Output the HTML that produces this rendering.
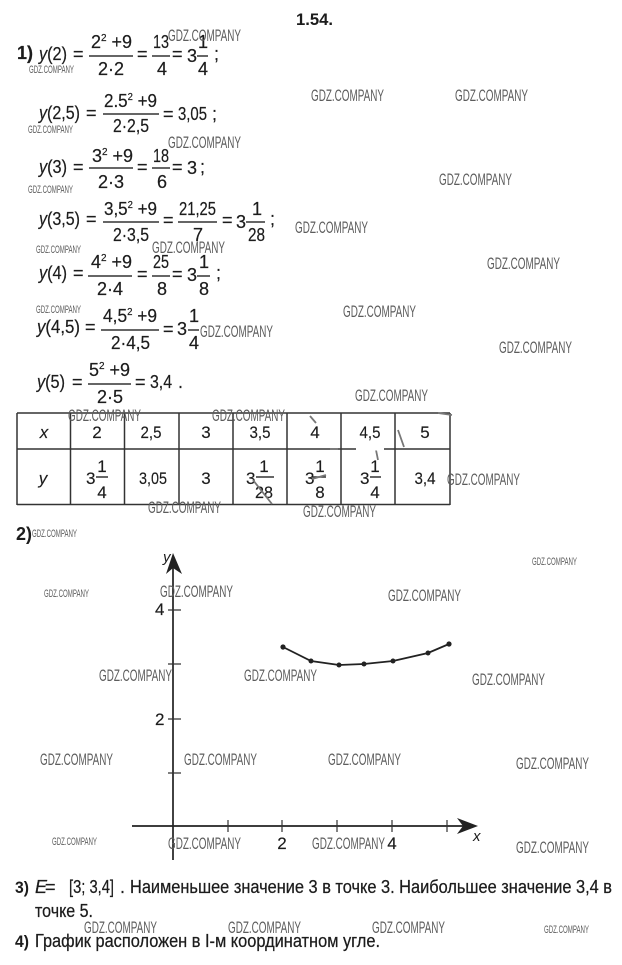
<!DOCTYPE html>
<html><head><meta charset="utf-8"><style>
html,body{margin:0;padding:0;background:#fff}
svg{display:block}
text{font-family:"Liberation Sans",sans-serif;fill:#1c1c1c}
.f{font-size:18px;stroke:#1c1c1c;stroke-width:.2}
.i{font-style:italic}
.b{font-weight:bold}
.t{font-size:17px;stroke:#1c1c1c;stroke-width:.15}
.w{font-size:16.5px;fill:#5c5c5c}
.s{font-size:11px;fill:#5c5c5c}
.l{stroke:#333;stroke-width:1.4;fill:none}
.r{font-size:17px;fill:#1c1c1c;stroke:#1c1c1c;stroke-width:.15}
.q{font-size:18px;stroke:#1c1c1c;stroke-width:.25}
</style></head><body>
<svg width="622" height="965" viewBox="0 0 622 965" xmlns="http://www.w3.org/2000/svg">
<rect width="622" height="965" fill="#fff"/>
<text x="296" y="25" class="b" font-size="17" textLength="37" lengthAdjust="spacingAndGlyphs">1.54.</text>

<!-- Line 1 -->
<text x="17" y="59" class="f b" textLength="16" lengthAdjust="spacingAndGlyphs">1)</text>
<text x="39" y="60" class="f" textLength="28" lengthAdjust="spacingAndGlyphs"><tspan class="i">y</tspan>(2)</text><text x="73" y="60" class="f">=</text>
<text x="91" y="48" class="f" textLength="41" lengthAdjust="spacingAndGlyphs">2<tspan dy="-7" font-size="10">2</tspan><tspan dy="7"> +9</tspan></text>
<path class="l" d="M89 56H133M152 56H170M197 56H208"/>
<text x="98" y="75" class="f" textLength="26" lengthAdjust="spacingAndGlyphs">2·2</text>
<text x="137" y="60" class="f">=</text>
<text x="153" y="48" class="f" textLength="16" lengthAdjust="spacingAndGlyphs">13</text>
<text x="157" y="75" class="f">4</text>
<text x="172" y="60" class="f">=</text>
<text x="187" y="62" class="f">3</text>
<text x="198" y="48" class="f">1</text>
<text x="198" y="75" class="f">4</text>
<text x="214" y="60" class="f">;</text>

<!-- Line 2 -->
<text x="39" y="119" class="f" textLength="41" lengthAdjust="spacingAndGlyphs"><tspan class="i">y</tspan>(2,5)</text><text x="86" y="119" class="f">=</text>
<text x="104" y="107" class="f" textLength="53" lengthAdjust="spacingAndGlyphs">2.5<tspan dy="-7" font-size="10">2</tspan><tspan dy="7"> +9</tspan></text>
<path class="l" d="M103 114H159"/>
<text x="113" y="132" class="f" textLength="36" lengthAdjust="spacingAndGlyphs">2·2,5</text>
<text x="163" y="120" class="f">=</text>
<text x="178" y="120" class="f" textLength="29" lengthAdjust="spacingAndGlyphs">3,05</text>
<text x="212" y="120" class="f">;</text>

<!-- Line 3 -->
<text x="39" y="173" class="f" textLength="28" lengthAdjust="spacingAndGlyphs"><tspan class="i">y</tspan>(3)</text><text x="73" y="173" class="f">=</text>
<text x="92" y="162" class="f" textLength="41" lengthAdjust="spacingAndGlyphs">3<tspan dy="-7" font-size="10">2</tspan><tspan dy="7"> +9</tspan></text>
<path class="l" d="M89 168H133M152 168H170"/>
<text x="98" y="188" class="f" textLength="26" lengthAdjust="spacingAndGlyphs">2·3</text>
<text x="137" y="173" class="f">=</text>
<text x="153" y="162" class="f" textLength="16" lengthAdjust="spacingAndGlyphs">18</text>
<text x="157" y="188" class="f">6</text>
<text x="172" y="173" class="f">=</text>
<text x="187" y="174" class="f">3</text>
<text x="200" y="173" class="f">;</text>

<!-- Line 4 -->
<text x="39" y="225" class="f" textLength="41" lengthAdjust="spacingAndGlyphs"><tspan class="i">y</tspan>(3,5)</text><text x="86" y="225" class="f">=</text>
<text x="104" y="215" class="f" textLength="53" lengthAdjust="spacingAndGlyphs">3,5<tspan dy="-7" font-size="10">2</tspan><tspan dy="7"> +9</tspan></text>
<path class="l" d="M103 222H159M178 222H217M246 222H265"/>
<text x="113" y="241" class="f" textLength="36" lengthAdjust="spacingAndGlyphs">2·3,5</text>
<text x="163" y="226" class="f">=</text>
<text x="179" y="215" class="f" textLength="37" lengthAdjust="spacingAndGlyphs">21,25</text>
<text x="193" y="241" class="f">7</text>
<text x="222" y="226" class="f">=</text>
<text x="236" y="228" class="f">3</text>
<text x="252" y="215" class="f">1</text>
<text x="248" y="241" class="f" textLength="17" lengthAdjust="spacingAndGlyphs">28</text>
<text x="270" y="225" class="f">;</text>

<!-- Line 5 -->
<text x="39" y="279" class="f" textLength="28" lengthAdjust="spacingAndGlyphs"><tspan class="i">y</tspan>(4)</text><text x="73" y="279" class="f">=</text>
<text x="91" y="268" class="f" textLength="41" lengthAdjust="spacingAndGlyphs">4<tspan dy="-7" font-size="10">2</tspan><tspan dy="7"> +9</tspan></text>
<path class="l" d="M88 276H132M152 276H170M197 276H210"/>
<text x="97" y="295" class="f" textLength="26" lengthAdjust="spacingAndGlyphs">2·4</text>
<text x="137" y="280" class="f">=</text>
<text x="153" y="268" class="f" textLength="16" lengthAdjust="spacingAndGlyphs">25</text>
<text x="157" y="295" class="f">8</text>
<text x="172" y="280" class="f">=</text>
<text x="187" y="281" class="f">3</text>
<text x="199" y="268" class="f">1</text>
<text x="199" y="295" class="f">8</text>
<text x="216" y="279" class="f">;</text>

<!-- Line 6 -->
<text x="37" y="333" class="f" textLength="43" lengthAdjust="spacingAndGlyphs"><tspan class="i">y</tspan>(4,5)</text><text x="85" y="333" class="f">=</text>
<text x="103" y="322" class="f" textLength="54" lengthAdjust="spacingAndGlyphs">4,5<tspan dy="-7" font-size="10">2</tspan><tspan dy="7"> +9</tspan></text>
<path class="l" d="M101 330H159M188 330H199"/>
<text x="111" y="349" class="f" textLength="39" lengthAdjust="spacingAndGlyphs">2·4,5</text>
<text x="163" y="335" class="f">=</text>
<text x="177" y="335" class="f">3</text>
<text x="189" y="322" class="f">1</text>
<text x="189" y="349" class="f">4</text>

<!-- Line 7 -->
<text x="37" y="388" class="f" textLength="28" lengthAdjust="spacingAndGlyphs"><tspan class="i">y</tspan>(5)</text><text x="72" y="388" class="f">=</text>
<text x="89" y="376" class="f" textLength="41" lengthAdjust="spacingAndGlyphs">5<tspan dy="-7" font-size="10">2</tspan><tspan dy="7"> +9</tspan></text>
<path class="l" d="M88 384H131"/>
<text x="97" y="403" class="f" textLength="26" lengthAdjust="spacingAndGlyphs">2·5</text>
<text x="135" y="388" class="f">=</text>
<text x="150" y="388" class="f" textLength="22" lengthAdjust="spacingAndGlyphs">3,4</text>
<text x="178" y="388" class="f">.</text>

<!-- Table -->
<path d="M17 413H450M17 449H450M17 504.500H450M17 413V505M70.500 413V505M124.500 413V505M179 413V505M233 413V505M287 413V505M341 413V505M395 413V505M450 413V505" stroke="#333" stroke-width="1.5" fill="none"/>
<text x="44" y="438" class="t i" text-anchor="middle">x</text>
<text x="97" y="438" class="t" text-anchor="middle">2</text>
<text x="151" y="438" class="t" text-anchor="middle" textLength="21" lengthAdjust="spacingAndGlyphs">2,5</text>
<text x="206" y="438" class="t" text-anchor="middle">3</text>
<text x="260" y="438" class="t" text-anchor="middle" textLength="21" lengthAdjust="spacingAndGlyphs">3,5</text>
<text x="315" y="438" class="t" text-anchor="middle">4</text>
<text x="370" y="438" class="t" text-anchor="middle" textLength="21" lengthAdjust="spacingAndGlyphs">4,5</text>
<text x="425" y="438" class="t" text-anchor="middle">5</text>
<text x="43" y="484" class="t i" text-anchor="middle">y</text>
<text x="153" y="484" class="t" text-anchor="middle" textLength="28" lengthAdjust="spacingAndGlyphs">3,05</text>
<text x="206" y="484" class="t" text-anchor="middle">3</text>
<text x="425" y="484" class="t" text-anchor="middle" textLength="21" lengthAdjust="spacingAndGlyphs">3,4</text>
<path class="l" d="M96 477H108M256 477H274M312 477H326M370 477H381"/>
<text x="86" y="484" class="r">3</text><text x="102" y="472" class="r" text-anchor="middle">1</text><text x="102" y="498" class="r" text-anchor="middle">4</text>
<text x="246" y="484" class="r">3</text><text x="264" y="472" class="r" text-anchor="middle">1</text><text x="264" y="498" class="r" text-anchor="middle" textLength="18" lengthAdjust="spacingAndGlyphs">28</text>
<text x="305" y="484" class="r">3</text><text x="320" y="472" class="r" text-anchor="middle">1</text><text x="320" y="498" class="r" text-anchor="middle">8</text>
<text x="360" y="484" class="r">3</text><text x="375" y="472" class="r" text-anchor="middle">1</text><text x="375" y="498" class="r" text-anchor="middle">4</text>
<!-- scratches -->
<path d="M253 480L272 504M312 479L326 475M398 430L404 447M438 413L452 415M376 450L378 460M316 423L310 416M330 449H338" stroke="#777" stroke-width="1.8" fill="none"/>
<path d="M356 449H384" stroke="#fff" stroke-width="3"/>

<text x="16" y="540" class="b" font-size="18" textLength="16" lengthAdjust="spacingAndGlyphs">2)</text>

<!-- Graph -->
<path d="M173 560V860M132 826H465" stroke="#222" stroke-width="1.7" fill="none"/>
<path d="M173 553L182 574L173 568L166 574Z" fill="#222"/>
<path d="M478 826L457 818L463 826L457 834Z" fill="#222"/>
<path d="M168 610H181M168 664H181M168 719H181M168 773H181M228 820V832M282 820V832M337 820V832M392 820V832M447 820V832" stroke="#333" stroke-width="1.2" fill="none"/>
<text x="163" y="562" class="i" font-size="15">y</text>
<text x="155" y="615" class="t">4</text>
<text x="155" y="725" class="t">2</text>
<text x="282" y="849" class="t" text-anchor="middle">2</text>
<text x="392" y="849" class="t" text-anchor="middle">4</text>
<text x="473" y="841" class="i" font-size="15">x</text>
<polyline points="283,647 311,661 339,665 364,664 393,661 428,653 449,644" stroke="#222" stroke-width="1.8" fill="none"/>
<g fill="#222"><circle cx="283" cy="647" r="2.600"/><circle cx="311" cy="661" r="2.500"/><circle cx="339" cy="665" r="2.500"/><circle cx="364" cy="664" r="2.500"/><circle cx="393" cy="661" r="2.500"/><circle cx="428" cy="653" r="2.500"/><circle cx="449" cy="644" r="2.600"/></g>

<!-- Bottom text -->
<text x="15" y="893" class="b" font-size="17" textLength="14" lengthAdjust="spacingAndGlyphs">3)</text>
<text x="35" y="893" class="q i">E</text><text x="45" y="893" class="q">=</text>
<text x="69" y="893" class="q" textLength="45" lengthAdjust="spacingAndGlyphs">[3; 3,4]</text>
<text x="120" y="893" class="q">.</text>
<text x="130" y="893" class="q" textLength="482" lengthAdjust="spacingAndGlyphs">Наименьшее значение 3 в точке 3. Наибольшее значение 3,4 в</text>
<text x="35" y="917" class="q" textLength="58" lengthAdjust="spacingAndGlyphs">точке 5.</text>
<text x="15" y="947" class="b" font-size="17" textLength="14" lengthAdjust="spacingAndGlyphs">4)</text>
<text x="35" y="947" class="q" textLength="345" lengthAdjust="spacingAndGlyphs">График расположен в I-м координатном угле.</text>

<!-- Watermarks large -->
<g>
<text x="168" y="41" class="w" textLength="73" lengthAdjust="spacingAndGlyphs">GDZ.COMPANY</text>
<text x="311" y="101" class="w" textLength="73" lengthAdjust="spacingAndGlyphs">GDZ.COMPANY</text>
<text x="455" y="101" class="w" textLength="73" lengthAdjust="spacingAndGlyphs">GDZ.COMPANY</text>
<text x="168" y="148" class="w" textLength="73" lengthAdjust="spacingAndGlyphs">GDZ.COMPANY</text>
<text x="439" y="185" class="w" textLength="73" lengthAdjust="spacingAndGlyphs">GDZ.COMPANY</text>
<text x="295" y="233" class="w" textLength="73" lengthAdjust="spacingAndGlyphs">GDZ.COMPANY</text>
<text x="152" y="253" class="w" textLength="73" lengthAdjust="spacingAndGlyphs">GDZ.COMPANY</text>
<text x="487" y="269" class="w" textLength="73" lengthAdjust="spacingAndGlyphs">GDZ.COMPANY</text>
<text x="343" y="317" class="w" textLength="73" lengthAdjust="spacingAndGlyphs">GDZ.COMPANY</text>
<text x="200" y="337" class="w" textLength="73" lengthAdjust="spacingAndGlyphs">GDZ.COMPANY</text>
<text x="499" y="353" class="w" textLength="73" lengthAdjust="spacingAndGlyphs">GDZ.COMPANY</text>
<text x="355" y="401" class="w" textLength="73" lengthAdjust="spacingAndGlyphs">GDZ.COMPANY</text>
<text x="68" y="421" class="w" textLength="73" lengthAdjust="spacingAndGlyphs">GDZ.COMPANY</text>
<text x="212" y="421" class="w" textLength="73" lengthAdjust="spacingAndGlyphs">GDZ.COMPANY</text>
<text x="447" y="485" class="w" textLength="73" lengthAdjust="spacingAndGlyphs">GDZ.COMPANY</text>
<text x="148" y="513" class="w" textLength="73" lengthAdjust="spacingAndGlyphs">GDZ.COMPANY</text>
<text x="303" y="517" class="w" textLength="73" lengthAdjust="spacingAndGlyphs">GDZ.COMPANY</text>
<text x="160" y="597" class="w" textLength="73" lengthAdjust="spacingAndGlyphs">GDZ.COMPANY</text>
<text x="388" y="601" class="w" textLength="73" lengthAdjust="spacingAndGlyphs">GDZ.COMPANY</text>
<text x="99" y="681" class="w" textLength="73" lengthAdjust="spacingAndGlyphs">GDZ.COMPANY</text>
<text x="244" y="681" class="w" textLength="73" lengthAdjust="spacingAndGlyphs">GDZ.COMPANY</text>
<text x="472" y="685" class="w" textLength="73" lengthAdjust="spacingAndGlyphs">GDZ.COMPANY</text>
<text x="40" y="765" class="w" textLength="73" lengthAdjust="spacingAndGlyphs">GDZ.COMPANY</text>
<text x="184" y="765" class="w" textLength="73" lengthAdjust="spacingAndGlyphs">GDZ.COMPANY</text>
<text x="328" y="765" class="w" textLength="73" lengthAdjust="spacingAndGlyphs">GDZ.COMPANY</text>
<text x="516" y="769" class="w" textLength="73" lengthAdjust="spacingAndGlyphs">GDZ.COMPANY</text>
<text x="168" y="849" class="w" textLength="73" lengthAdjust="spacingAndGlyphs">GDZ.COMPANY</text>
<text x="312" y="849" class="w" textLength="73" lengthAdjust="spacingAndGlyphs">GDZ.COMPANY</text>
<text x="516" y="853" class="w" textLength="73" lengthAdjust="spacingAndGlyphs">GDZ.COMPANY</text>
<text x="84" y="933" class="w" textLength="73" lengthAdjust="spacingAndGlyphs">GDZ.COMPANY</text>
<text x="228" y="933" class="w" textLength="73" lengthAdjust="spacingAndGlyphs">GDZ.COMPANY</text>
<text x="372" y="933" class="w" textLength="73" lengthAdjust="spacingAndGlyphs">GDZ.COMPANY</text>
</g>
<!-- Watermarks small -->
<g>
<text x="29" y="73" class="s" textLength="45" lengthAdjust="spacingAndGlyphs">GDZ.COMPANY</text>
<text x="28" y="133" class="s" textLength="45" lengthAdjust="spacingAndGlyphs">GDZ.COMPANY</text>
<text x="28" y="193" class="s" textLength="45" lengthAdjust="spacingAndGlyphs">GDZ.COMPANY</text>
<text x="36" y="253" class="s" textLength="45" lengthAdjust="spacingAndGlyphs">GDZ.COMPANY</text>
<text x="36" y="313" class="s" textLength="45" lengthAdjust="spacingAndGlyphs">GDZ.COMPANY</text>
<text x="32" y="537" class="s" textLength="45" lengthAdjust="spacingAndGlyphs">GDZ.COMPANY</text>
<text x="532" y="565" class="s" textLength="45" lengthAdjust="spacingAndGlyphs">GDZ.COMPANY</text>
<text x="44" y="597" class="s" textLength="45" lengthAdjust="spacingAndGlyphs">GDZ.COMPANY</text>
<text x="52" y="845" class="s" textLength="45" lengthAdjust="spacingAndGlyphs">GDZ.COMPANY</text>
<text x="544" y="933" class="s" textLength="45" lengthAdjust="spacingAndGlyphs">GDZ.COMPANY</text>
</g>
</svg>
</body></html>
